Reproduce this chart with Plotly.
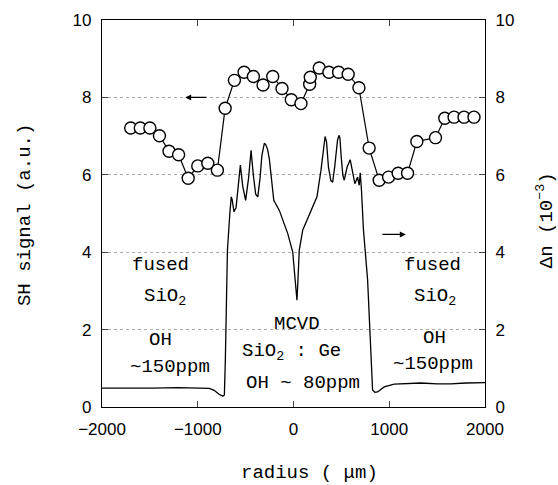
import plotly.graph_objects as go

# SH signal (left axis, a.u.)
sh_x = [-1700, -1600, -1500, -1400, -1300, -1200, -1100, -1000, -895, -795,
        -714, -617, -516, -419, -318, -217, -120, -23, 78, 169, 175, 269,
        370, 471, 571, 683, 790, 895, 993, 1093, 1191, 1288, 1483, 1580,
        1677, 1781, 1885]
sh_y = [7.21, 7.21, 7.21, 7.01, 6.61, 6.52, 5.91, 6.23, 6.30, 6.12,
        7.72, 8.44, 8.65, 8.54, 8.32, 8.54, 8.23, 7.94, 7.84, 8.34, 8.52, 8.76,
        8.65, 8.65, 8.60, 8.25, 6.69, 5.86, 5.94, 6.04, 6.04, 6.86, 6.96, 7.46,
        7.49, 7.49, 7.49]

# Refractive index profile (right axis, 10^-3)
dn_x = [-2000, -1700, -1486, -1200, -965, -878, -829, -777, -738, -722, -712,
        -690, -665, -650, -640, -622, -600, -578, -555, -530, -500, -470,
        -443, -420, -395, -373, -350, -330, -315, -304, -290, -270, -252,
        -230, -206, -148, -60, -8, 16, 36, 47, 60, 96, 182, 245, 287, 315,
        330, 345, 365, 390, 409, 430, 460, 475, 485, 497, 515, 530, 560,
        592, 615, 641, 669, 686, 697, 710, 730, 774, 826, 850, 878, 947,
        1051, 1200, 1330, 1500, 1642, 1800, 2000]
dn_y = [0.49, 0.48, 0.49, 0.50, 0.49, 0.48, 0.43, 0.33, 0.28, 0.31, 1.2,
        4.05, 5.0, 5.43, 5.35, 5.05, 5.15, 5.7, 6.25, 5.7, 5.34, 5.9,
        6.63, 6.0, 5.5, 5.43, 5.9, 6.5, 6.75, 6.82, 6.78, 6.65, 6.4,
        5.8, 5.34, 5.08, 4.48, 4.0, 3.4, 2.76, 3.3, 4.05, 4.57, 5.08, 5.43,
        6.12, 6.75, 6.99, 6.85, 6.2, 5.85, 5.81, 6.2, 6.9, 7.02, 6.95, 6.5,
        6.0, 5.86, 6.2, 6.39, 6.1, 5.77, 5.94, 5.73, 6.05, 5.6, 4.6, 3.28,
        0.44, 0.38, 0.39, 0.52, 0.59, 0.61, 0.62, 0.60, 0.60, 0.62, 0.63]

x_ticks = [-2000, -1000, 0, 1000, 2000]
y_ticks = [0, 2, 4, 6, 8, 10]

MONO = "Liberation Mono"
SANS = "Liberation Sans"

fig = go.Figure()
fig.add_trace(go.Scatter(x=dn_x, y=dn_y, mode="lines", yaxis="y2",
                         line=dict(color="black", width=1.3), showlegend=False))
fig.add_trace(go.Scatter(x=sh_x, y=sh_y, mode="lines+markers",
                         line=dict(color="black", width=1.2),
                         marker=dict(symbol="circle", size=12, color="white",
                                     line=dict(color="black", width=1.4)),
                         showlegend=False))

tick_font = dict(family=SANS, size=17, color="black")
fig.update_layout(
    width=558, height=485,
    margin=dict(l=102, r=73, t=20, b=78, autoexpand=False),
    plot_bgcolor="white", paper_bgcolor="white",
    xaxis=dict(range=[-2000, 2000], tickvals=x_ticks, ticks="inside", ticklen=6,
               showline=True, linecolor="black", linewidth=1.2, mirror="ticks",
               showgrid=False, zeroline=False, tickfont=tick_font,
               ticklabelstandoff=6, automargin=False),
    yaxis=dict(range=[0, 10], tickvals=y_ticks, ticks="inside", ticklen=6,
               showline=True, linecolor="black", linewidth=1.2,
               showgrid=True, gridcolor="#aaaaaa", griddash="dot", gridwidth=1,
               zeroline=False, tickfont=tick_font, ticklabelstandoff=6,
               automargin=False),
    yaxis2=dict(range=[0, 10], tickvals=y_ticks, ticks="inside", ticklen=6,
                overlaying="y", side="right",
                showline=True, linecolor="black", linewidth=1.2,
                showgrid=False, zeroline=False, tickfont=tick_font, ticklabelstandoff=6,
                automargin=False),
)

title_font = dict(family=MONO, size=19, color="black")
fig.add_annotation(x=0.543, y=-0.171, xref="paper", yref="paper", text="radius ( μm)",
                   showarrow=False, font=title_font, xanchor="center", yanchor="middle")
fig.add_annotation(x=-0.201, y=0.496, xref="paper", yref="paper", text="SH signal (a.u.)",
                   showarrow=False, font=title_font, textangle=-90,
                   xanchor="center", yanchor="middle")
fig.add_annotation(x=1.157, y=0.483, xref="paper", yref="paper", text="Δn (10<sup>−3</sup>)",
                   showarrow=False, font=title_font, textangle=-90,
                   xanchor="center", yanchor="middle")

ann_font = dict(family=MONO, size=19, color="black")
labels = [
    ("fused", -1394, 3.66), ("SiO<sub>2</sub>", -1337, 2.85),
    ("OH", -1385, 1.73), ("~150ppm", -1295, 1.04),
    ("MCVD", 35, 2.14), ("SiO<sub>2</sub> : Ge", -18, 1.41),
    ("OH ~ 80ppm", 104, 0.63),
    ("fused", 1451, 3.66), ("SiO<sub>2</sub>", 1477, 2.85),
    ("OH", 1468, 1.78), ("~150ppm", 1460, 1.11),
]
for t, x, y in labels:
    fig.add_annotation(x=x, y=y, xref="x", yref="y", text=t, showarrow=False,
                       font=ann_font, xanchor="center", yanchor="middle")

# direction arrows
fig.add_annotation(x=-1131, y=8, ax=-895, ay=8, xref="x", yref="y", axref="x", ayref="y",
                   text="", showarrow=True, arrowhead=2, arrowsize=1, arrowwidth=1.2,
                   arrowcolor="black")
fig.add_annotation(x=1173, y=4.46, ax=912, ay=4.46, xref="x", yref="y", axref="x", ayref="y",
                   text="", showarrow=True, arrowhead=2, arrowsize=1, arrowwidth=1.2,
                   arrowcolor="black")

fig.write_html("out.html")
